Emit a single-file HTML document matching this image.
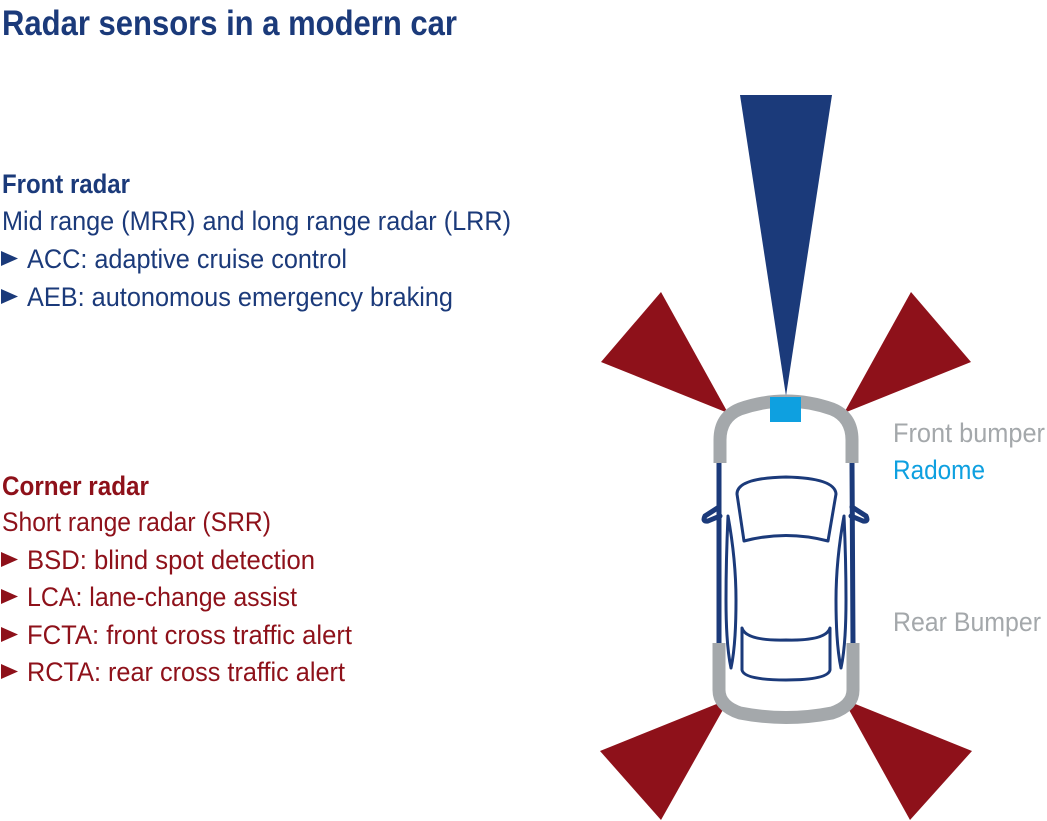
<!DOCTYPE html>
<html><head><meta charset="utf-8"><style>
html,body{margin:0;padding:0;background:#fff;}
svg{display:block;}
text{font-family:"Liberation Sans Narrow","Liberation Sans",sans-serif;}
</style></head><body>
<svg width="1047" height="821" viewBox="0 0 1047 821" xmlns="http://www.w3.org/2000/svg">
<text x="2" y="35" font-size="35" font-weight="bold" fill="#1b3a7a" textLength="455" lengthAdjust="spacingAndGlyphs">Radar sensors in a modern car</text>
<g fill="#1b3a7a" font-size="27">
<text x="2" y="193" font-weight="bold" textLength="128" lengthAdjust="spacingAndGlyphs">Front radar</text>
<text x="2" y="230" textLength="509" lengthAdjust="spacingAndGlyphs">Mid range (MRR) and long range radar (LRR)</text>
<text x="27" y="268" textLength="320" lengthAdjust="spacingAndGlyphs">ACC: adaptive cruise control</text>
<text x="27" y="306" textLength="426" lengthAdjust="spacingAndGlyphs">AEB: autonomous emergency braking</text>
<polygon points="1,251 18,258.5 1,266"/>
<polygon points="1,289 18,296.5 1,304"/>
</g>
<g fill="#8e111a" font-size="27">
<text x="2" y="495" font-weight="bold" textLength="147" lengthAdjust="spacingAndGlyphs">Corner radar</text>
<text x="2" y="531" textLength="269" lengthAdjust="spacingAndGlyphs">Short range radar (SRR)</text>
<text x="27" y="569" textLength="288" lengthAdjust="spacingAndGlyphs">BSD: blind spot detection</text>
<text x="27" y="606" textLength="270" lengthAdjust="spacingAndGlyphs">LCA: lane-change assist</text>
<text x="27" y="644" textLength="325" lengthAdjust="spacingAndGlyphs">FCTA: front cross traffic alert</text>
<text x="27" y="681" textLength="318" lengthAdjust="spacingAndGlyphs">RCTA: rear cross traffic alert</text>
<polygon points="1,552 18,559.5 1,567"/>
<polygon points="1,589 18,596.5 1,604"/>
<polygon points="1,627 18,634.5 1,642"/>
<polygon points="1,664 18,671.5 1,679"/>
</g>
<g font-size="27">
<text x="893" y="442" fill="#a4a8ab" textLength="152" lengthAdjust="spacingAndGlyphs">Front bumper</text>
<text x="893" y="479" fill="#0ea0e0" textLength="92" lengthAdjust="spacingAndGlyphs">Radome</text>
<text x="893" y="631" fill="#a4a8ab" textLength="148" lengthAdjust="spacingAndGlyphs">Rear Bumper</text>
</g>
<polygon points="740,95 832,95 786,396" fill="#1b3a7a"/>
<g fill="#8e111a">
<polygon points="601,362 661,292 728,413"/>
<polygon points="911,292 971,362 844,413"/>
<polygon points="729,699 600,751 661,820"/>
<polygon points="843,699 972,751 910,820"/>
</g>
<g fill="none" stroke="#1b3a7a" stroke-width="5" stroke-linecap="round" stroke-linejoin="round">
<path d="M719,463 L719,645"/>
<path d="M852,463 L853,645"/>
<path d="M719,507 L705,516 Q702,522 708,521 L720,516"/>
<path d="M852,507 L866,516 Q869,522 863,521 L851,516"/>
</g>
<g fill="none" stroke="#1b3a7a" stroke-width="3" stroke-linejoin="round">
<path d="M737,494 Q737,478 786,477 Q835,478 836,494 L828,541 Q786,530 744,541 Z"/>
<path d="M742,628 Q746,641 786,640 Q826,641 830,628 L830,670 Q828,680 786,680 Q744,680 742,670 Z"/>
<path d="M728,516 Q736,560 736,600 Q736,645 731,668 Q726,645 726,600 Q726,560 728,516 Z"/>
<path d="M844,516 Q836,560 836,600 Q836,645 841,668 Q846,645 846,600 Q846,560 844,516 Z"/>
</g>
<g fill="none" stroke="#a4a8ab" stroke-width="13">
<path d="M720,463 L720,440 Q720,417 740,409 Q786,393 832,409 Q852,417 852,440 L852,463"/>
<path d="M719,643 L719,690 Q719,706 740,713 Q786,722 832,713 Q853,706 853,690 L853,643"/>
</g>
<rect x="770" y="397" width="31" height="25" fill="#0ea0e0"/>
</svg>
</body></html>
